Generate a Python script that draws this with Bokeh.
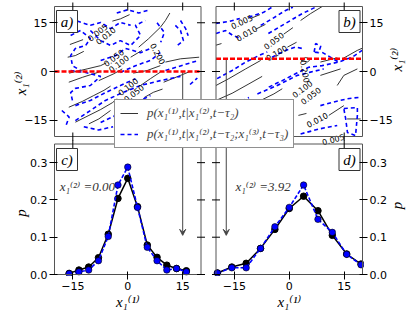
from bokeh.plotting import figure
from bokeh.models import (Range1d, LinearAxis, FixedTicker, Label, Legend,
                          LegendItem, Arrow, VeeHead)
from bokeh.core.properties import value
from bokeh.embed import file_html
from bokeh.resources import INLINE
import math

# ---------------- texts ----------------
X1 = "x\u2081\u207d\u00b9\u207e"
X2 = "x\u2081\u207d\u00b2\u207e"
X3 = "x\u2081\u207d\u00b3\u207e"
LEG1 = f"p({X1},t|{X2},t\u2212\u03c4\u2082)"
LEG2 = f"p({X1},t|{X2},t\u2212\u03c4\u2082;{X3},t\u2212\u03c4\u2083)"

# ---------------- data ----------------
COND_A = 0.00
COND_B = 3.92

XC = [-16.0, -13.33, -10.67, -8.0, -5.33, -2.67, 0.0, 2.67, 5.33, 8.0, 10.67, 13.33, 16.0]
PC_BLACK = [0.003, 0.012, 0.020, 0.045, 0.108, 0.204, 0.258, 0.182, 0.079, 0.046, 0.025, 0.016, 0.010]
PC_BLUE = [0.002, 0.007, 0.012, 0.037, 0.102, 0.240, 0.288, 0.180, 0.073, 0.037, 0.012, 0.016, 0.007]

XD = [-19.6, -15.68, -11.76, -7.84, -3.92, 0.0, 3.92, 7.84, 11.76, 15.68, 19.6]
PD_BLACK = [0.004, 0.020, 0.030, 0.070, 0.121, 0.177, 0.210, 0.171, 0.105, 0.055, 0.028]
PD_BLUE = [0.004, 0.018, 0.018, 0.070, 0.128, 0.180, 0.240, 0.148, 0.113, 0.054, 0.026]

XTICKS = [-15, 0, 15]
XTICK_LABELS = ["\u221215", "0", "15"]
YTICKS_TOP = [15, 0, -15]
YTICK_LABELS_TOP = ["15", "0", "\u221215"]
YTICKS_BOT = [0.0, 0.1, 0.2, 0.3]
YTICK_LABELS_BOT = ["0.0", "0.1", "0.2", "0.3"]

ARROW_X_A = 15.0
ARROW_X_B = -17.2
ARROW_P_END = 0.105

# contour polylines (x1^(1), x1^(2))
A_SOLID = [
    [(-15.8, 8.3), (-12.2, 9.8)],
    [(-16.4, 4.4), (-14.3, 4.9), (-12.0, 6.2)],
    [(-4.2, 15.5), (-2.0, 16.2), (0.5, 17.5)],
    [(3.0, 7.5), (5.7, 10.1), (8.9, 13.6), (10.3, 15.7), (11.5, 18.0)],
    [(10.3, 2.9), (14.4, 3.9), (19.5, 4.4)],
    [(-16.0, -0.5), (-11.1, 0.8), (-7.4, 1.8), (-5.8, 2.7)],
    [(0.8, 4.4), (3.9, 6.5)],
    [(1.5, -0.5), (5.3, 0.3), (8.9, 1.8)],
    [(-16.1, -3.3), (-12.4, -1.8), (-10.2, -1.0), (-7.9, -0.2)],
    [(-16.1, -11.0), (-12.4, -9.2), (-9.3, -7.4), (-6.5, -5.8), (-4.7, -4.5)],
    [(-14.3, -15.6), (-10.6, -13.5), (-7.4, -11.7), (-4.2, -9.6), (-2.9, -8.4)],
    [(-10.6, -16.1), (-7.9, -14.6), (-4.7, -12.0)],
    [(-7.9, -2.8), (-3.8, -0.7), (-1.5, 0.8)],
    [(3.5, -4.3), (6.2, -2.2), (8.9, -0.2)],
    [(9.8, -3.3), (14.4, -1.2), (17.0, 0.0)],
    [(4.5, -8.0), (7.0, -6.4), (9.5, -5.4)],
]
A_DASH = [
    [(-16.2, 12.6), (-14.3, 15.7), (-10.2, 14.2), (-7.4, 15.1), (-4.7, 13.2), (-2.0, 15.1), (0.8, 14.2)],
    [(-15.6, 11.1), (-12.9, 12.6), (-10.2, 10.2), (-11.5, 8.0), (-14.3, 7.1), (-15.6, 4.9), (-15.1, 1.8), (-12.9, 0.3)],
    [(-10.2, 12.6), (-7.4, 9.5), (-4.7, 8.0), (-2.0, 9.5), (0.8, 8.0), (3.5, 11.1), (2.1, 14.2), (4.8, 15.7)],
    [(13.0, 14.2), (14.4, 12.6), (15.2, 9.5), (13.5, 8.0)],
    [(14.4, 15.7), (15.8, 13.2), (16.5, 11.0)],
    [(-15.6, 0.3), (-11.5, -0.3), (-7.4, -1.5), (-10.2, -4.3), (-14.3, -5.2), (-15.6, -6.5), (-15.1, -8.9)],
    [(-7.4, 3.4), (-3.3, 4.9), (-0.6, 7.1), (3.5, 5.8), (6.2, 7.1)],
    [(-2.0, -0.3), (2.1, 1.8), (6.2, 3.4), (8.9, 5.8)],
    [(10.3, 0.3), (15.8, 2.2), (19.3, 3.4)],
    [(-14.3, -10.5), (-10.2, -8.9), (-6.1, -6.5), (-2.0, -4.3), (2.1, -2.2)],
    [(-14.3, -15.1), (-10.2, -12.0), (-6.1, -8.9), (-2.0, -6.8), (3.5, -4.3), (8.9, -2.8), (14.4, -1.5)],
    [(-7.4, -15.7), (-3.3, -13.5), (0.8, -11.4), (3.5, -8.9), (6.2, -7.4)],
    [(6.2, -10.5), (8.9, -8.9), (11.7, -9.8), (14.4, -8.9)],
    [(-18.0, -12.0), (-16.0, -14.0), (-17.0, -17.0)],
    [(-3.0, 18.0), (0.0, 19.0), (3.0, 18.0), (6.0, 19.0)],
    [(8.0, 15.0), (10.0, 12.0), (9.0, 9.0)],
    [(17.0, -4.0), (19.0, -2.0)],
    [(-12.0, -17.0), (-8.0, -18.0), (-4.0, -17.0)],
]
A_LAB_X = [-8.3, -6.1, -3.9, -2.5, 8.3, 0.0, 1.6]
A_LAB_Y = [12.1, 11.1, 4.3, 2.5, 5.5, -4.6, -6.6]
A_LAB_T = ["0.005", "0.010", "0.050", "0.100", "0.200", "0.100", "0.050"]
A_LAB_DEG = [39, 39, 37, 37, -62, 38, 38]

B_SOLID = [
    [(-20.0, 8.1), (-18.5, 8.6)],
    [(-10.6, 16.3), (-8.0, 17.5)],
    [(-9.2, 13.0), (-6.5, 14.5)],
    [(-1.5, 11.5), (1.0, 13.5)],
    [(-0.5, 7.5), (2.0, 9.0)],
    [(3.1, 15.7), (5.8, 17.8), (9.0, 20.0)],
    [(8.5, 2.9), (13.1, 4.2)],
    [(14.5, 3.9), (18.6, 6.5), (20.0, 7.2)],
    [(3.2, 3.5), (4.5, 4.3), (5.8, 3.8), (5.0, 2.9), (3.2, 3.5)],
    [(-20.0, -4.3), (-16.5, -2.2), (-11.9, 0.8), (-7.8, 3.4)],
    [(-20.0, -8.9), (-15.6, -6.7), (-11.0, -3.8), (-7.4, -1.5)],
    [(-9.7, -10.5), (-7.8, -8.9), (-4.2, -6.9), (-1.9, -5.3)],
    [(8.5, -1.2), (14.0, 0.8)],
    [(13.1, -4.3), (14.9, -1.2), (18.6, 0.8)],
    [(15.8, -14.6), (19.5, -14.6)],
    [(2.5, -13.5), (4.7, -12.9)],
    [(10.8, -13.5), (14.9, -10.5)],
]
B_DASH = [
    [(-20.0, 14.8), (-16.5, 15.4), (-13.5, 16.3)],
    [(-11.1, 16.7), (-7.0, 18.2), (-4.7, 19.8)],
    [(-20.0, 11.7), (-17.4, 12.6), (-15.4, 11.1), (-13.0, 10.0)],
    [(-7.8, 14.2), (-4.7, 16.2), (-1.0, 18.8), (1.0, 19.8)],
    [(-19.7, -2.2), (-15.6, 0.3), (-11.9, 2.9), (-8.3, 4.9), (-6.0, 6.0)],
    [(-4.7, 4.4), (-1.0, 6.5), (1.7, 7.5), (4.0, 7.0)],
    [(-5.7, 11.7), (-1.0, 14.8), (3.5, 17.8), (7.2, 19.8)],
    [(9.0, 5.9), (13.5, 2.9), (17.2, 4.4), (19.9, 6.5)],
    [(-5.6, -4.8), (-1.9, -2.8), (1.7, -0.7), (5.3, 1.3), (9.0, 1.8), (13.5, 2.9)],
    [(-8.7, -6.9), (-3.3, -4.3), (2.2, -1.2), (5.8, -0.2), (9.4, 0.8)],
    [(-3.3, -10.5), (1.2, -8.9)],
    [(8.5, -10.5), (12.1, -9.4), (15.8, -8.4), (19.5, -7.9)],
    [(3.1, -19.2), (8.5, -17.6), (13.1, -16.6)],
    [(14.9, -11.4), (18.6, -11.1), (18.6, -13.5), (18.1, -19.7), (15.9, -18.8), (15.4, -14.5), (14.9, -11.4)],
    [(6.8, 6.0), (7.2, 8.6), (8.6, 7.8), (8.0, 5.8), (6.8, 6.0)],
    [(-20.0, -12.5), (-15.0, -10.5), (-11.0, -8.0)],
]
B_LAB_X = [-13.0, -11.7, -4.3, -3.5, 4.4, 3.5, 5.8, 7.6, 12.0]
B_LAB_Y = [15.4, 11.8, 9.5, 5.8, 0.0, -5.3, -7.4, -14.8, -20.8]
B_LAB_T = ["0.005", "0.010", "0.050", "0.100", "0.200", "0.100", "0.050", "0.010", "0.005"]
B_LAB_DEG = [25, 30, 37, 30, -80, 37, 37, 28, 15]

# ---------------- geometry (styles) ----------------
W, H = 415, 312
FL, FR, FT, FB = 53, 363, 1, 275
PANEL = {
    "a": (54.0, 200.5, 6.0, 136.0, (-20.0, 20.0), (-20.0, 20.0)),
    "b": (215.5, 362.0, 6.0, 136.0, (-20.0, 20.0), (-20.0, 20.0)),
    "c": (54.0, 200.5, 143.5, 274.0, (-20.0, 20.0), (0.0, 0.35)),
    "d": (215.5, 362.0, 143.5, 274.0, (-20.0, 20.0), (0.0, 0.35)),
}


def lin(px, p0, p1, d0, d1):
    return d0 + (px - p0) * (d1 - d0) / (p1 - p0)


def px_x(k, v):
    l, r, t, b, xd, yd = PANEL[k]
    return round(l + (v - xd[0]) * (r - l) / (xd[1] - xd[0]), 3)


def px_y(k, v):
    l, r, t, b, xd, yd = PANEL[k]
    return round(b + (v - yd[0]) * (t - b) / (yd[1] - yd[0]), 3)


xr, yr = {}, {}
for k, (l, r, t, b, xd, yd) in PANEL.items():
    xr[k + "x"] = Range1d(lin(FL, l, r, *xd), lin(FR, l, r, *xd))
    yr[k + "y"] = Range1d(lin(FB, b, t, *yd), lin(FT, b, t, *yd))

p = figure(width=W, height=H, x_range=Range1d(FL, FR), y_range=Range1d(FB, FT),
           min_border_left=FL, min_border_right=W - FR, min_border_top=FT,
           min_border_bottom=H - FB, x_axis_location=None, y_axis_location=None,
           toolbar_location=None, output_backend="svg", title=None,
           outline_line_color=None, background_fill_color="white",
           border_fill_color="white",
           styles={"position": "absolute", "left": "0px", "top": "0px"})
p.extra_x_ranges = xr
p.extra_y_ranges = yr
p.grid.visible = False

SANS = "DejaVu Sans"
SERIF = "Liberation Serif, DejaVu Serif"


def add_axis(ticks, labels, side):
    ax = LinearAxis(ticker=FixedTicker(ticks=ticks, minor_ticks=[]),
                    major_label_overrides=dict(zip(ticks, labels)),
                    axis_line_color=None, major_tick_in=4, major_tick_out=4,
                    major_tick_line_color="black", minor_tick_line_color=None,
                    major_label_standoff=2, major_label_text_font=SANS,
                    major_label_text_font_size="11px", major_label_text_color="black")
    p.add_layout(ax, side)


def add_title_axis(ticks, labels, side, orient):
    # outer axis whose tick labels are the panel axis titles
    ax = LinearAxis(ticker=FixedTicker(ticks=ticks, minor_ticks=[]),
                    major_label_overrides=dict(zip(ticks, labels)),
                    axis_line_color=None, major_tick_in=0, major_tick_out=0,
                    major_tick_line_color=None, minor_tick_line_color=None,
                    major_label_standoff=1, major_label_orientation=orient,
                    major_label_text_font=SERIF, major_label_text_font_style="italic",
                    major_label_text_font_size="15px", major_label_text_color="black")
    p.add_layout(ax, side)


yt = [px_y("a", v) for v in YTICKS_TOP] + [px_y("c", v) for v in YTICKS_BOT]
yl = YTICK_LABELS_TOP + YTICK_LABELS_BOT
add_axis(yt, yl, "left")
add_axis(yt, yl, "right")
xt = [px_x("c", v) for v in XTICKS] + [px_x("d", v) for v in XTICKS]
add_axis(xt, XTICK_LABELS + XTICK_LABELS, "below")

yt_title = [px_y("a", 0.0), px_y("c", 0.175)]
add_title_axis(yt_title, [X2, "p"], "left", math.pi / 2)
add_title_axis(yt_title, [X2, "p"], "right", math.pi / 2)
xt_title = [px_x("c", 0.0), px_x("d", 0.0)]
add_title_axis(xt_title, [X1, X1], "below", "horizontal")


def rn(k):
    return dict(x_range_name=k + "x", y_range_name=k + "y")


def split(lines):
    return [[q[0] for q in ln] for ln in lines], [[q[1] for q in ln] for ln in lines]


# contours
xs, ys = split(A_SOLID)
ra_solid = p.multi_line(xs, ys, line_color="black", line_width=0.8, **rn("a"))
xs, ys = split(A_DASH)
ra_dash = p.multi_line(xs, ys, line_color="blue", line_width=1.6, line_dash="4 3", **rn("a"))
xs, ys = split(B_SOLID)
p.multi_line(xs, ys, line_color="black", line_width=0.8, **rn("b"))
xs, ys = split(B_DASH)
p.multi_line(xs, ys, line_color="blue", line_width=1.6, line_dash="4 3", **rn("b"))

p.text(x=A_LAB_X, y=A_LAB_Y, text=A_LAB_T, angle=[math.radians(a) for a in A_LAB_DEG],
       text_font=value(SANS), text_font_size="8px", text_align="center",
       text_baseline="middle", text_color="black", **rn("a"))
p.text(x=B_LAB_X, y=B_LAB_Y, text=B_LAB_T, angle=[math.radians(a) for a in B_LAB_DEG],
       text_font=value(SANS), text_font_size="8px", text_align="center",
       text_baseline="middle", text_color="black", **rn("b"))

# vertical connector lines in a / b
p.segment(x0=[ARROW_X_A], x1=[ARROW_X_A], y0=[COND_A], y1=[-20.0], line_color="#444444", line_width=1, **rn("a"))
p.segment(x0=[ARROW_X_B], x1=[ARROW_X_B], y0=[COND_B], y1=[-20.0], line_color="#444444", line_width=1, **rn("b"))

# red conditioning lines
p.segment(x0=[-20.0], x1=[20.0], y0=[COND_A], y1=[COND_A], line_color="red", line_width=2.5, line_dash="5 2", **rn("a"))
p.segment(x0=[-20.0], x1=[20.0], y0=[COND_B], y1=[COND_B], line_color="red", line_width=2.5, line_dash="5 2", **rn("b"))

# distributions
for k, xv, pb, pu in (("c", XC, PC_BLACK, PC_BLUE), ("d", XD, PD_BLACK, PD_BLUE)):
    p.line(xv, pb, line_color="black", line_width=1.5, **rn(k))
    p.scatter(xv, pb, size=6.5, fill_color="black", line_color="black", **rn(k))
    p.line(xv, pu, line_color="blue", line_width=1.6, line_dash="4 2", **rn(k))
    p.scatter(xv, pu, size=6.5, fill_color="blue", line_color="black", line_width=0.6, **rn(k))

# panel frames and inner ticks
SIDES = {"a": ["top", "bottom", "right"], "b": ["top", "bottom", "left"],
         "c": ["top", "right"], "d": ["top", "left"]}
TK = 4.0
for k, (l, r, t, b, xd, yd) in PANEL.items():
    p.quad(left=[xd[0]], right=[xd[1]], bottom=[yd[0]], top=[yd[1]], fill_color=None,
           line_color="#555555", line_width=1, **rn(k))
    lx = TK * (xd[1] - xd[0]) / (r - l)
    ly = TK * (yd[1] - yd[0]) / (b - t)
    yticks = YTICKS_TOP if k in "ab" else YTICKS_BOT
    x0, x1, y0, y1 = [], [], [], []
    for s in SIDES[k]:
        if s in ("top", "bottom"):
            yy = yd[1] if s == "top" else yd[0]
            for v in XTICKS:
                x0.append(v); x1.append(v); y0.append(yy - ly); y1.append(yy + ly)
        else:
            xx = xd[1] if s == "right" else xd[0]
            for v in yticks:
                x0.append(xx - lx); x1.append(xx + lx); y0.append(v); y1.append(v)
    p.segment(x0=x0, x1=x1, y0=y0, y1=y1, line_color="black", line_width=1, **rn(k))

# arrows into c / d
for k, xa in (("c", ARROW_X_A), ("d", ARROW_X_B)):
    p.add_layout(Arrow(end=VeeHead(size=6, line_color="#444444", line_width=1, fill_color="#444444"),
                       x_start=xa, y_start=0.35, x_end=xa, y_end=ARROW_P_END,
                       line_color="#444444", line_width=1, **rn(k)))

# panel letter boxes
BOXES = {"a": (56, 77, 10, 32), "b": (338.5, 359.5, 10, 32),
         "c": (56, 77, 148, 170), "d": (338.5, 359.5, 148, 170)}
for k, (bl, br, bt, bb) in BOXES.items():
    p.quad(left=[bl], right=[br], top=[bt], bottom=[bb], fill_color="white",
           line_color="#333333", line_width=1)
    p.add_layout(Label(x=(bl + br) / 2, y=(bt + bb) / 2, text=k + ")", text_align="center",
                       text_baseline="middle", text_font=SERIF, text_font_style="italic",
                       text_font_size="15px", text_color="black"))

# condition annotations in c / d
p.add_layout(Label(x=-18.6, y=0.236, text=f"{X2} =0.00", text_font=SERIF, text_font_style="italic",
                   text_font_size="13px", text_color="#333333", text_baseline="middle", **rn("c")))
p.add_layout(Label(x=-14.7, y=0.236, text=f"{X2} =3.92", text_font=SERIF, text_font_style="italic",
                   text_font_size="13px", text_color="#333333", text_baseline="middle", **rn("d")))

# legend
leg = Legend(items=[LegendItem(label=LEG1, renderers=[ra_solid]),
                    LegendItem(label=LEG2, renderers=[ra_dash])],
             location=(61, 127), margin=0, padding=5, spacing=5,
             glyph_width=18, glyph_height=16, label_height=16, label_standoff=9,
             label_text_font=SERIF, label_text_font_style="italic",
             label_text_font_size="13px", border_line_color="#222222",
             border_line_width=1, background_fill_color="white", background_fill_alpha=1.0)
p.add_layout(leg)

open("out.html", "w").write(file_html(p, INLINE))
